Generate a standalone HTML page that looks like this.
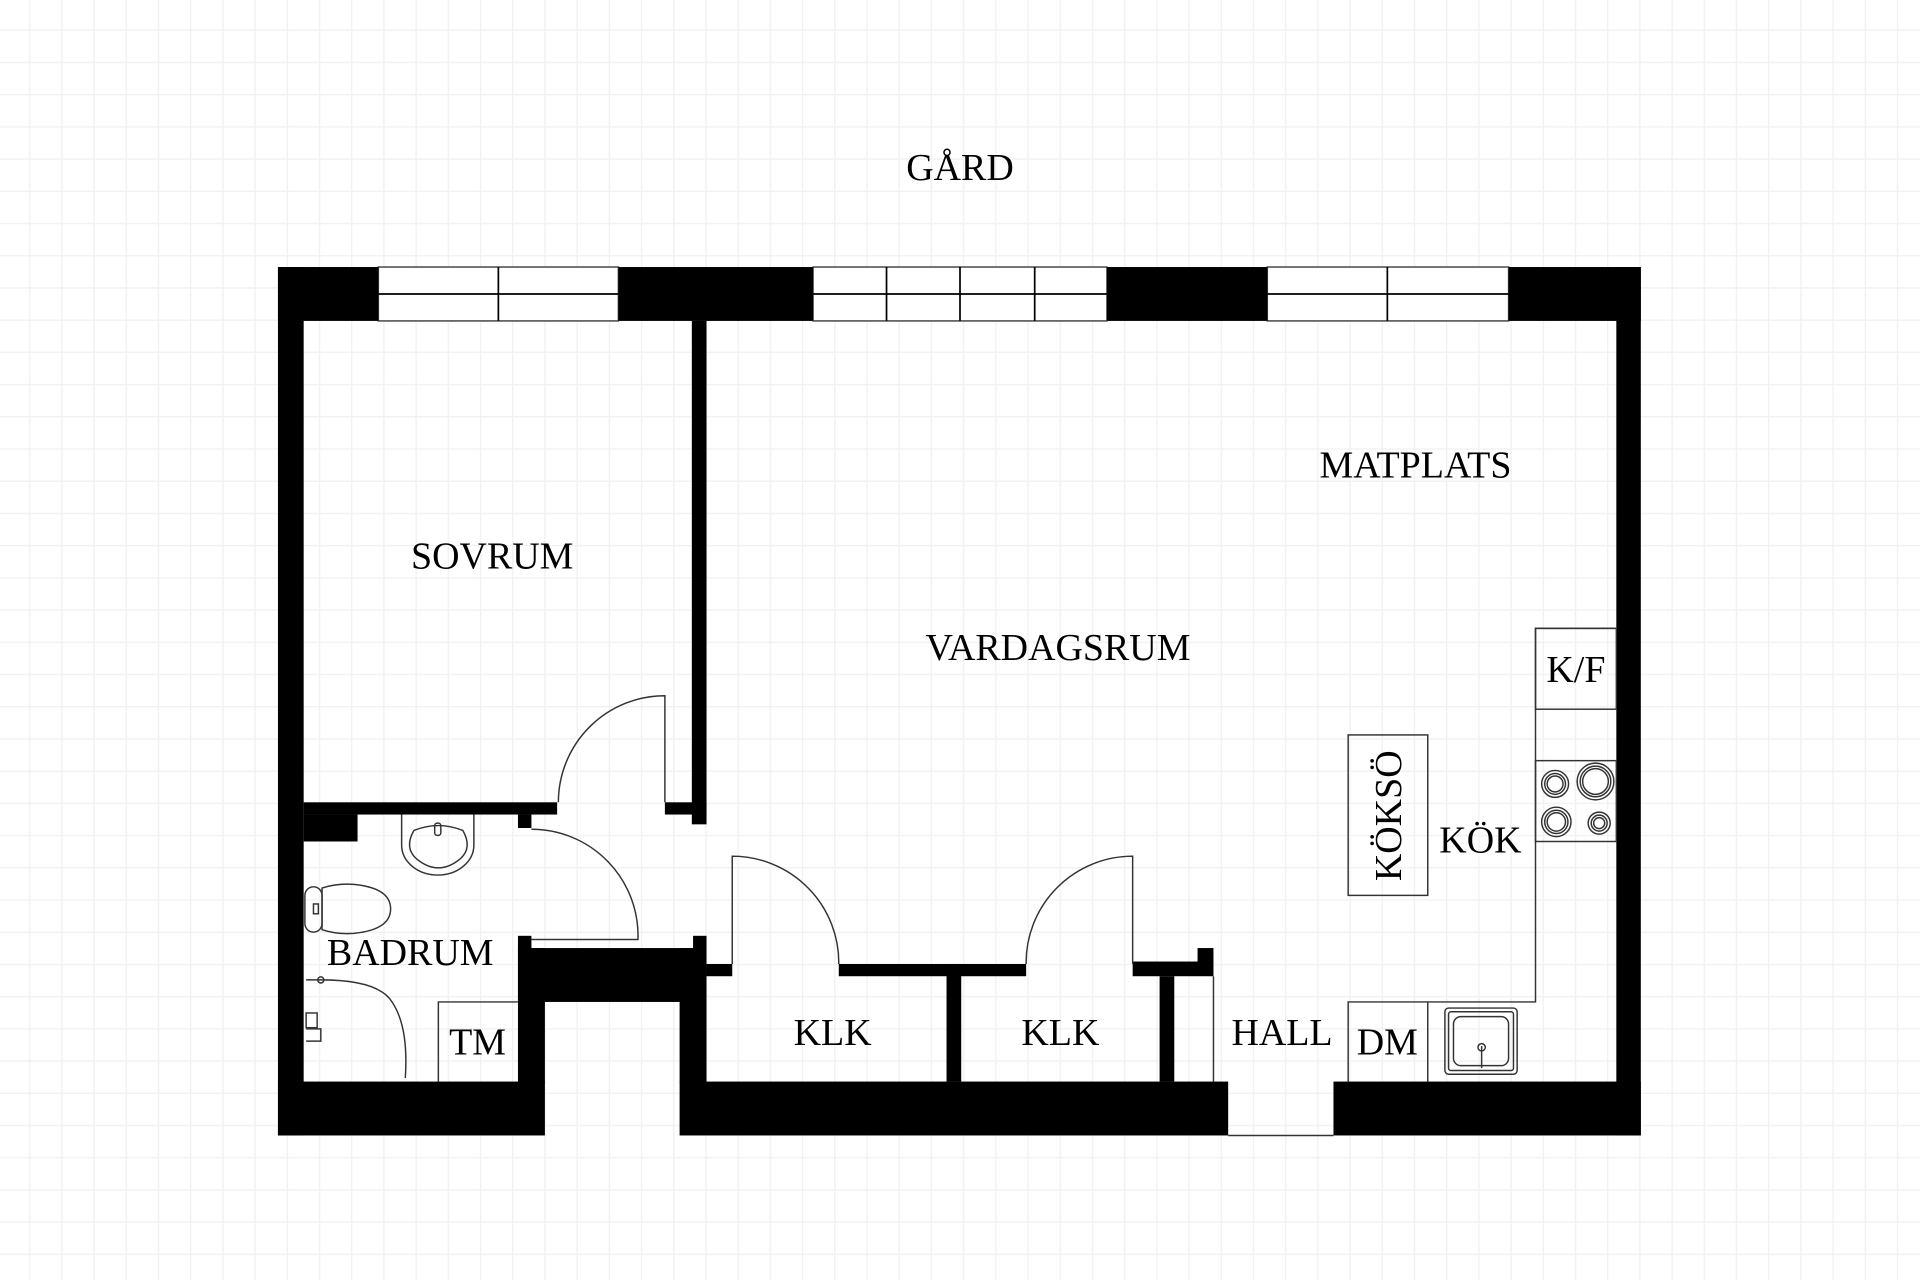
<!DOCTYPE html>
<html><head><meta charset="utf-8"><style>
html,body{margin:0;padding:0;background:#fff;}
svg{display:block;}
text{font-family:"Liberation Serif",serif;font-size:31px;fill:#000;text-anchor:middle;}
</style></head><body>
<svg width="1920" height="1280" viewBox="0 0 1568 1045" preserveAspectRatio="none" xmlns="http://www.w3.org/2000/svg">
<defs>
<pattern id="g" x="23.7" y="24.1" width="26.3" height="26.3" patternUnits="userSpaceOnUse">
<path d="M0 0H26.3M0 0V26.3" stroke="#f1f1f1" stroke-width="2.2" fill="none"/>
</pattern>
</defs>
<rect width="1568" height="1045" fill="#fff"/>
<rect width="1568" height="1045" fill="url(#g)"/>

<g fill="#fff" stroke="#444" stroke-width="1.2">
<rect x="309" y="218" width="196" height="44"/>
<rect x="664" y="218" width="240" height="44"/>
<rect x="1035" y="218" width="197" height="44"/>
</g>
<g stroke="#000" stroke-width="1.4">
<path d="M309 240H505M407 218V262M664 240H904M724 218V262M784 218V262M845 218V262M1035 240H1232M1133 218V262"/>
</g>

<g fill="#000">
<rect x="227" y="218" width="82" height="44"/>
<rect x="505" y="218" width="159" height="44"/>
<rect x="904" y="218" width="131" height="44"/>
<rect x="1232" y="218" width="108" height="44"/>
<rect x="227" y="218" width="21" height="709"/>
<rect x="1320" y="218" width="20" height="709"/>
<rect x="227" y="883" width="218" height="44"/>
<rect x="555" y="883" width="448" height="44"/>
<rect x="1089" y="883" width="251" height="44"/>
<rect x="565" y="262" width="12" height="411"/>
<rect x="543" y="655" width="34" height="10"/>
<rect x="248" y="655" width="207" height="10"/>
<rect x="248" y="665" width="44" height="22"/>
<rect x="423" y="665" width="11" height="11"/>
<rect x="423" y="764" width="11" height="11"/>
<rect x="423" y="774" width="22" height="110"/>
<rect x="423" y="774" width="143" height="44"/>
<rect x="566" y="764" width="11" height="12"/>
<rect x="555" y="774" width="22" height="110"/>
<rect x="577" y="787" width="21" height="10"/>
<rect x="685" y="787" width="153" height="10"/>
<rect x="773" y="787" width="12" height="96"/>
<rect x="925" y="785" width="66" height="12"/>
<rect x="978" y="774" width="13" height="12"/>
<rect x="947" y="797" width="12" height="86"/>
</g>

<g fill="none" stroke="#333" stroke-width="1.2">
<path d="M991 797V883M1003 927H1089"/>
<path d="M543 655V568A87 87 0 0 0 456 655"/>
<path d="M434 767H521A87 87 0 0 0 434 677"/>
<path d="M598 787V699A87 87 0 0 1 685 787"/>
<path d="M925 787V699A87 87 0 0 0 838 787"/>
<path d="M1320 513H1254V818H1101V883M1166 818V883"/>
<rect x="1254" y="513" width="66" height="66"/>
<rect x="1254" y="621" width="66" height="66"/>
<rect x="1101" y="600" width="65" height="131"/>
<path d="M358 883V818H423"/>
<rect x="1180" y="823" width="59" height="54" rx="3"/>
<rect x="1183" y="826" width="53" height="48" rx="2"/>
<rect x="1187" y="830" width="45" height="40" rx="6"/>
<path d="M1210 854V872"/>
<circle cx="1210" cy="855" r="3"/>
<circle cx="1270" cy="640" r="11"/><circle cx="1270" cy="640" r="8.5"/><circle cx="1270" cy="640" r="6.5"/>
<circle cx="1303" cy="638" r="15"/><circle cx="1303" cy="638" r="12.5"/><circle cx="1303" cy="638" r="10.5"/>
<circle cx="1271" cy="671" r="12"/><circle cx="1271" cy="671" r="9.5"/><circle cx="1271" cy="671" r="7.5"/>
<circle cx="1306" cy="672" r="9"/><circle cx="1306" cy="672" r="6.5"/><circle cx="1306" cy="672" r="4.5"/>
<path d="M328 665V690A29 24 0 0 0 387 690V665"/>
<path d="M338 678Q358 670 378 678Q386 692 376 701Q358 716 340 701Q330 692 338 678Z"/>
<rect x="355" y="672" width="5" height="10" rx="2"/>
<rect x="249" y="724" width="14" height="37" rx="7"/>
<path d="M263 725Q275 721 289 722Q319 725 319 742Q319 759 289 762Q275 763 263 759Z"/>
<rect x="256" y="738" width="4" height="8"/>
<path d="M250 800H262Q305 800 318 815Q334 835 331 880"/>
<circle cx="262" cy="800" r="2.5"/>
<rect x="250" y="827" width="9" height="12"/>
<path d="M250 840H262V850H250"/>
</g>

<text x="784" y="147">GÅRD</text>
<text x="402" y="464">SOVRUM</text>
<text x="864" y="539">VARDAGSRUM</text>
<text x="1156" y="390">MATPLATS</text>
<text x="1287" y="557">K/F</text>
<text x="1209" y="696">KÖK</text>
<text x="0" y="0" transform="translate(1144 666) rotate(-90)">KÖKSÖ</text>
<text x="335" y="788">BADRUM</text>
<text x="390" y="861">TM</text>
<text x="680" y="853">KLK</text>
<text x="866" y="853">KLK</text>
<text x="1047" y="853">HALL</text>
<text x="1133" y="861">DM</text>
</svg>
</body></html>
